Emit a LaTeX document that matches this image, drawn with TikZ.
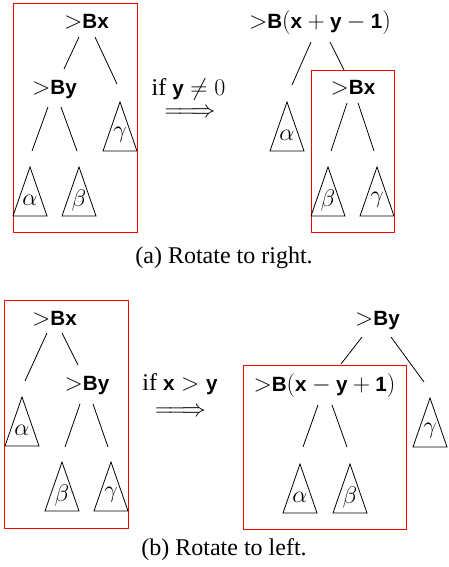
\RequirePackage{fix-cm}
\documentclass[tikz,border=0pt]{standalone}
\usepackage{fontspec}
\setmainfont{Liberation Serif}
\newfontfamily\hvfam{Liberation Sans}[Scale=0.86]
\newcommand\bs[1]{\mbox{\hvfam\bfseries #1}}
\newcommand\gt{\mathord{>}}
\newcommand\longRA{\Relbar\joinrel\Relbar\joinrel\Rightarrow}
\tikzset{
  edge/.style={line width=0.8pt},
  tri/.style={line width=0.8pt, line join=miter},
  hl/.style={draw=red, line width=0.8pt},
  lbl/.style={inner sep=0pt, anchor=base, font=\fontsize{24}{29}\selectfont},
  greek/.style={inner sep=0pt, font=\fontsize{24}{29}\selectfont},
}
\newcommand\conn[3]{\coordinate (#1-s) at (#2); \coordinate (#1-e) at (#3); \draw[edge] (#1-s) -- (#1-e);}
\newcommand\tri[4]{\coordinate (#1-apex) at (#2,#3);
  \draw[tri] (#1-apex) -- ++(-17,49) -- ++(34,0) -- cycle;
  \node[greek] (#1) at (#2,#3+33) {$#4$};}
\begin{document}
\begin{tikzpicture}[x=1pt,y=-1pt]
\useasboundingbox (0,0) rectangle (448,567);
% ---------- (a) left ----------
\draw[hl] (13,3) rectangle (137,232);
\node[lbl] (aLr) at (86.5,29) {$\gt\bs{Bx}$};
\node[lbl] (aLy) at (54.5,95) {$\gt\bs{By}$};
\conn{aL1}{79,37}{64,69}
\conn{aL2}{95,37}{117,84}
\conn{aL3}{48,107}{32,151}
\conn{aL4}{61,107}{77,151}
\tri{aLg}{120}{102}{\gamma}
\tri{aLa}{30}{167}{\alpha}
\tri{aLb}{79}{167}{\beta}
% arrow (a)
\node[lbl] (aif) at (188.5,96) {if $\bs{y}\neq 0$};
\node[greek] (aarr) at (190,113) {$\longRA$};
% ---------- (a) right ----------
\node[lbl] (aRr) at (320,29) {$\gt\bs{B}(\bs{x}+\bs{y}-\bs{1})$};
\draw[hl] (311,70) rectangle (394,232);
\node[lbl] (aRx) at (353,95) {$\gt\bs{Bx}$};
\conn{aR1}{311,42}{292,85}
\conn{aR2}{330,42}{344,70}
\conn{aR3}{347,103}{331,151}
\conn{aR4}{358,103}{374,151}
\tri{aRa}{287}{102}{\alpha}
\tri{aRb}{328}{167}{\beta}
\tri{aRg}{377}{167}{\gamma}
\node[lbl] (capa) at (224,263) {(a) Rotate to right.};
% ---------- (b) left ----------
\draw[hl] (4,300) rectangle (128,528);
\node[lbl] (bLr) at (54.5,325) {$\gt\bs{Bx}$};
\node[lbl] (bLy) at (87,390) {$\gt\bs{By}$};
\conn{bL1}{47,333}{25,381}
\conn{bL2}{62,333}{78,365}
\conn{bL3}{80,404}{65,447}
\conn{bL4}{93,404}{108,447}
\tri{bLa}{22}{397}{\alpha}
\tri{bLb}{62}{462}{\beta}
\tri{bLg}{111}{462}{\gamma}
% arrow (b)
\node[lbl] (bif) at (180,390) {if $\bs{x}>\bs{y}$};
\node[greek] (barr) at (180.5,412) {$\longRA$};
% ---------- (b) right ----------
\node[lbl] (bRr) at (377.5,325) {$\gt\bs{By}$};
\draw[hl] (243,365) rectangle (406,529);
\node[lbl] (bRx) at (324.5,391) {$\gt\bs{B}(\bs{x}-\bs{y}+\bs{1})$};
\conn{bR1}{362,337}{341,364}
\conn{bR2}{391,337}{424,382}
\conn{bR3}{318,405}{303,447}
\conn{bR4}{332,405}{347,447}
\tri{bRa}{300}{464}{\alpha}
\tri{bRb}{350}{464}{\beta}
\tri{bRg}{430}{398}{\gamma}
\node[lbl] (capb) at (224,555) {(b) Rotate to left.};
\end{tikzpicture}
\end{document}
